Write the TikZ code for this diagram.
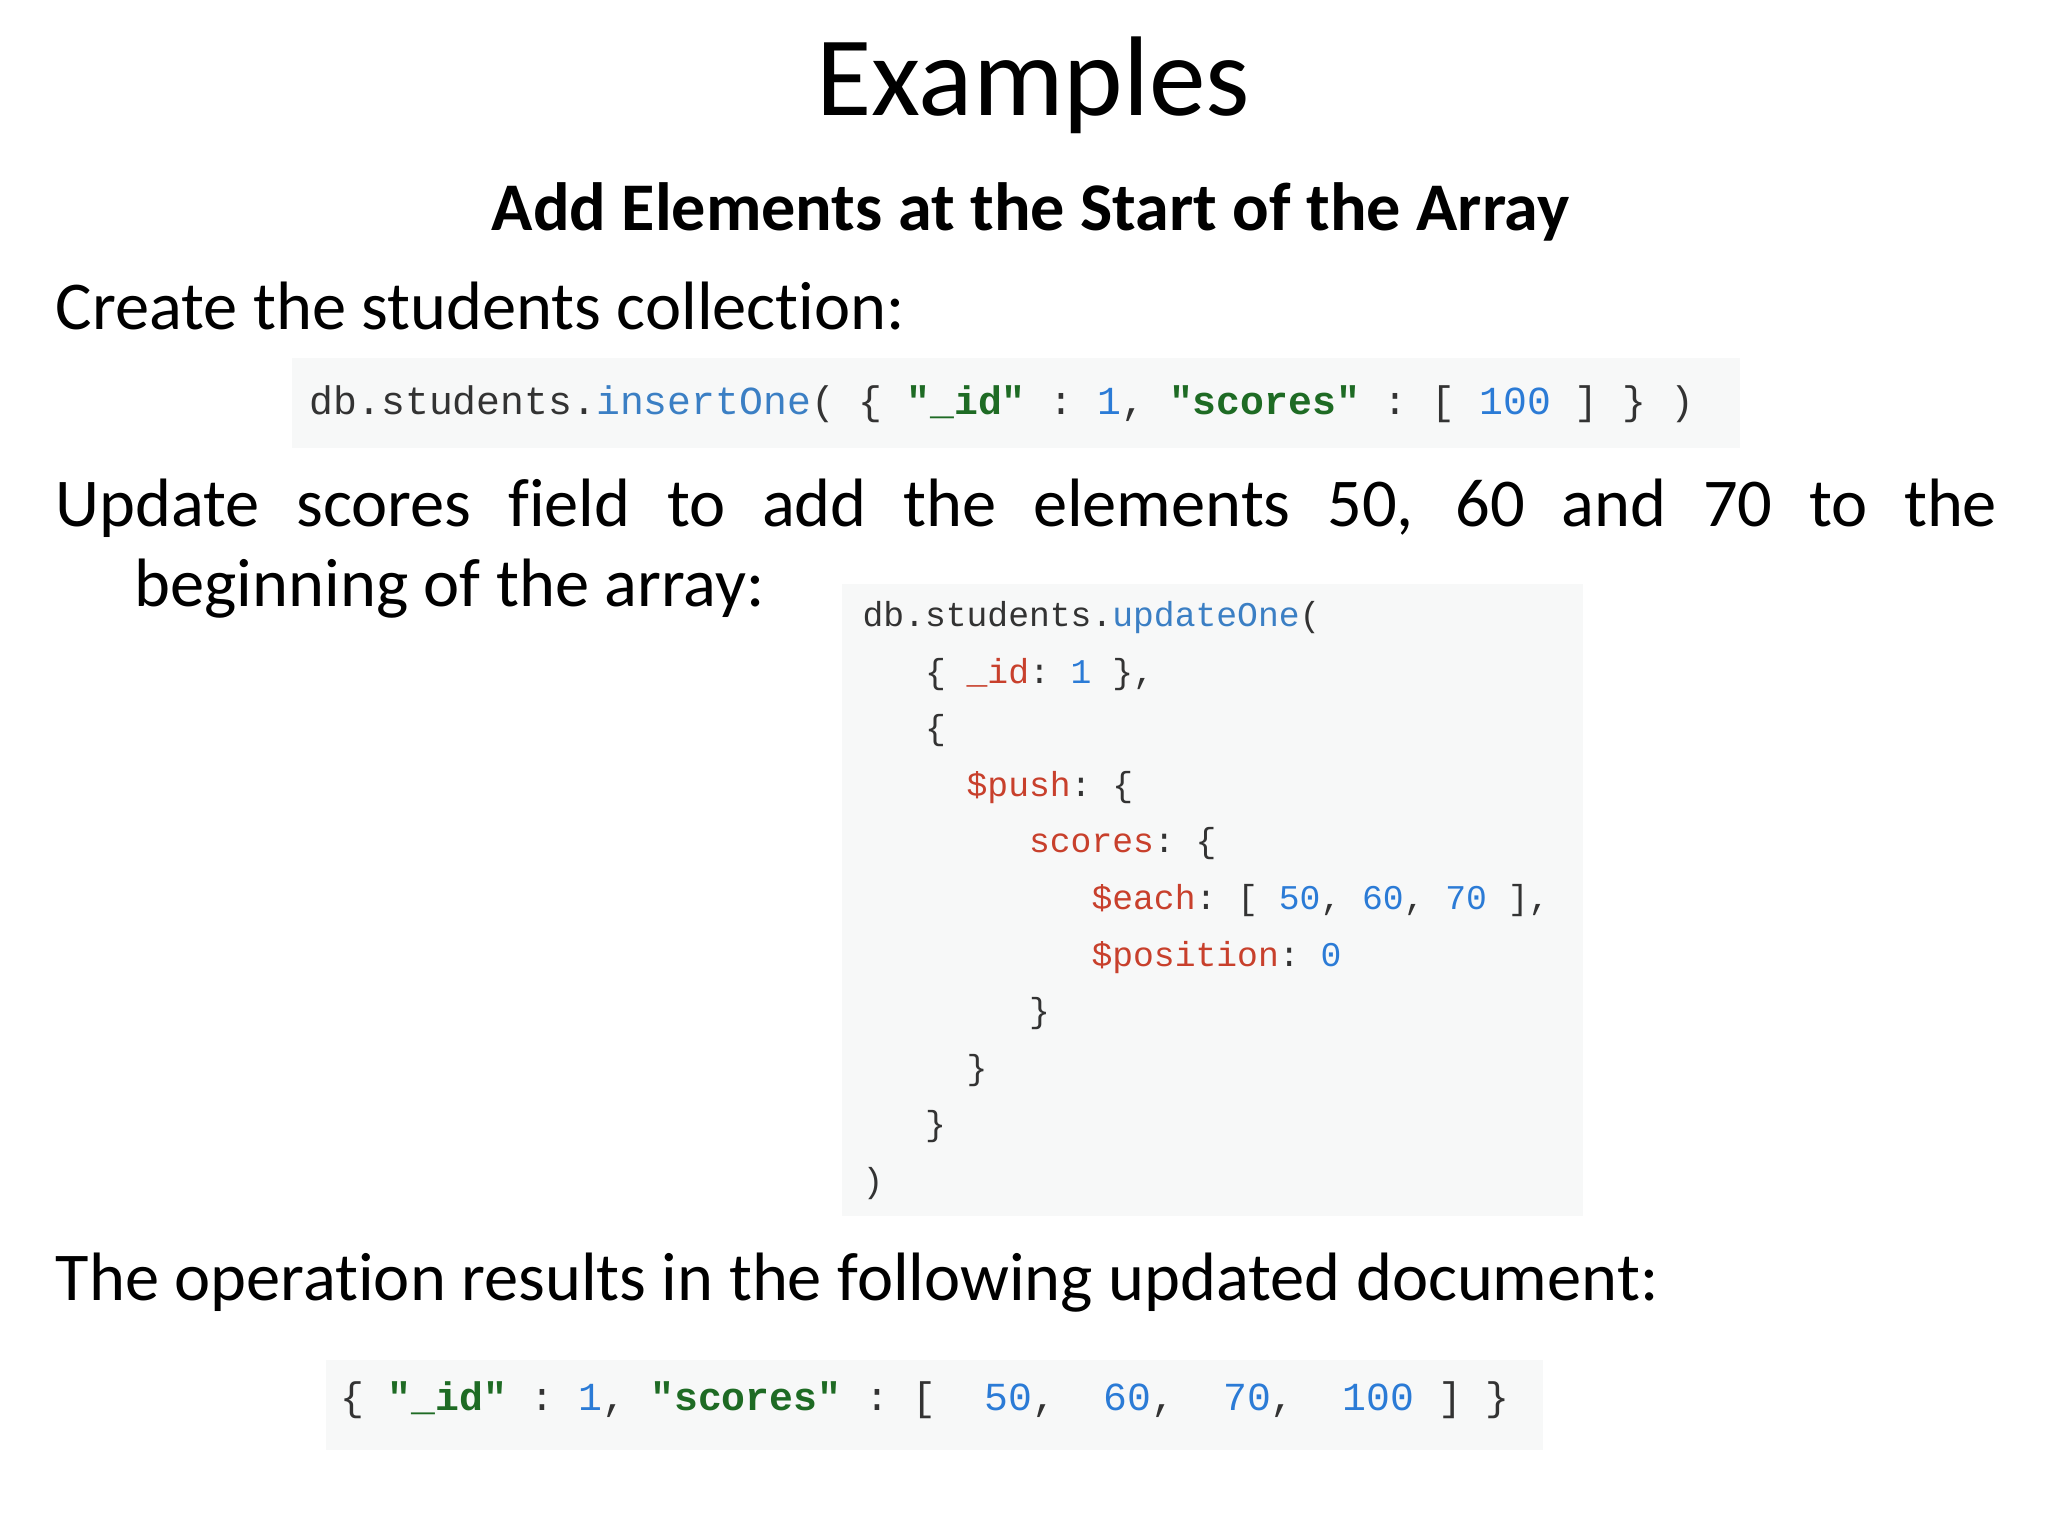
\documentclass[tikz,border=0pt]{standalone}
\usepackage{fontspec}
\setmainfont[Ligatures=NoCommon]{Carlito}
\setmonofont{Liberation Mono}
\definecolor{cbg}{HTML}{F7F8F8}
\definecolor{ctx}{HTML}{333333}
\definecolor{cfn}{HTML}{3B7FC4}
\definecolor{cnum}{HTML}{2B7BD6}
\definecolor{cstr}{HTML}{1E6B24}
\definecolor{ckey}{HTML}{C8402C}
\newcommand{\fn}[1]{\textcolor{cfn}{#1}}
\newcommand{\nm}[1]{\textcolor{cnum}{#1}}
\newcommand{\st}[1]{\textcolor{cstr}{\bfseries #1}}
\newcommand{\ky}[1]{\textcolor{ckey}{#1}}
\begin{document}
\begin{tikzpicture}[x=0.02cm,y=-0.02cm,
  body/.style={anchor=base west,inner sep=0,font=\fontsize{29.6}{36}\selectfont},
  codea/.style={anchor=base west,inner sep=0,text=ctx,font=\ttfamily\fontsize{17.2}{20}\selectfont},
  codeb/.style={anchor=base west,inner sep=0,text=ctx,font=\ttfamily\fontsize{15}{18}\selectfont},
  cbox/.style={fill=cbg,draw=none}]
\useasboundingbox[fill=white] (0,0) rectangle (1556,1167);
\node[anchor=base,inner sep=0,font=\fontsize{49}{58}\selectfont] (t) at (785,88) {Examples};
\node[anchor=base,inner sep=0,font=\bfseries\fontsize{29.5}{36}\selectfont] (s) at (783,175) {Add Elements at the Start of the Array};
\node[body] (l1) at (42,250) {Create the students collection:};
\fill[cbox] (222,272) rectangle (1322,340);
\node[codea] (c1) at (235,315) {db.students.\fn{insertOne}( \{ \st{"\_id"} : \nm{1}, \st{"scores"} : [ \nm{100} ] \} )};
\node[body] (l2) at (42,400) {\makebox[1475\dimexpr0.02cm\relax][s]{Update scores field to add the elements 50, 60 and 70 to the}};
\node[body] (l3) at (102,461) {beginning of the array:};
\fill[cbox] (640,444) rectangle (1203,924);
\node[codeb] (d1) at (655,476) {db.students.\fn{updateOne}(};
\node[codeb] (d2) at (655,519) {\ \ \ \{ \ky{\_id}: \nm{1} \},};
\node[codeb] (d3) at (655,562) {\ \ \ \{};
\node[codeb] (d4) at (655,605) {\ \ \ \ \ \ky{\$push}: \{};
\node[codeb] (d5) at (655,648) {\ \ \ \ \ \ \ \ \ky{scores}: \{};
\node[codeb] (d6) at (655,691) {\ \ \ \ \ \ \ \ \ \ \ \ky{\$each}: [ \nm{50}, \nm{60}, \nm{70} ],};
\node[codeb] (d7) at (655,734) {\ \ \ \ \ \ \ \ \ \ \ \ky{\$position}: \nm{0}};
\node[codeb] (d8) at (655,777) {\ \ \ \ \ \ \ \ \}};
\node[codeb] (d9) at (655,820) {\ \ \ \ \ \}};
\node[codeb] (d10) at (655,863) {\ \ \ \}};
\node[codeb] (d11) at (655,906) {)};
\node[body] (l4) at (42,988) {The operation results in the following updated document:};
\fill[cbox] (248,1033) rectangle (1172,1102);
\node[codea] (c3) at (258,1072) {\{ \st{"\_id"} : \nm{1}, \st{"scores"} : [ \ \nm{50}, \ \nm{60}, \ \nm{70}, \ \nm{100} ] \}};
\end{tikzpicture}
\end{document}
